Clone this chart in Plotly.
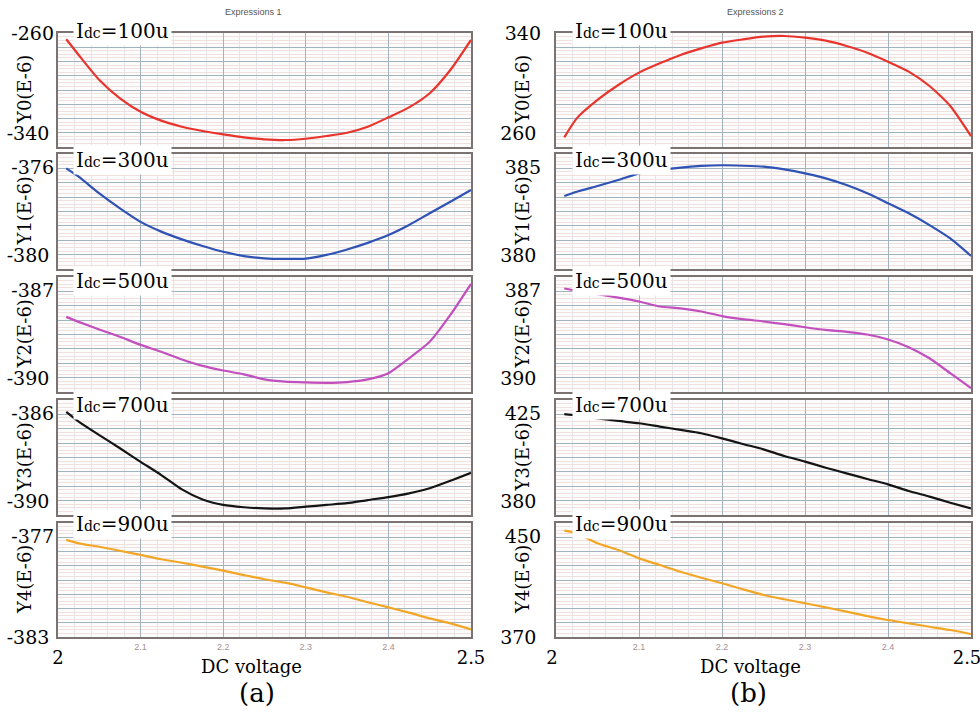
import numpy as np
import plotly.graph_objects as go

# ---------------- data ----------------
x_v = [2.01, 2.025, 2.05, 2.075, 2.1, 2.125, 2.15, 2.175, 2.2, 2.225, 2.25,
       2.275, 2.3, 2.325, 2.35, 2.375, 2.4, 2.425, 2.45, 2.475, 2.5]

# panel (a)
a0 = [-264.4, -275.4, -293.0, -305.8, -315.2, -321.5, -325.8, -328.8, -331.1, -333.2, -334.6,
      -335.1, -334.2, -332.3, -330.0, -325.8, -319.2, -312.2, -302.3, -286.0, -264.9]
a1 = [-376.50, -376.79, -377.37, -377.89, -378.36, -378.70, -378.97, -379.20, -379.40, -379.55, -379.63,
      -379.65, -379.64, -379.51, -379.32, -379.09, -378.82, -378.47, -378.06, -377.66, -377.25]
a2 = [-388.04, -388.17, -388.37, -388.56, -388.77, -388.95, -389.15, -389.32, -389.44, -389.54, -389.67,
      -389.73, -389.75, -389.76, -389.74, -389.67, -389.51, -389.12, -388.69, -387.99, -387.18]
a3 = [-386.41, -386.75, -387.22, -387.68, -388.15, -388.61, -389.11, -389.46, -389.65, -389.73, -389.77,
      -389.77, -389.71, -389.65, -389.59, -389.48, -389.38, -389.25, -389.07, -388.81, -388.53]
a4 = [-377.89, -378.07, -378.25, -378.46, -378.68, -378.91, -379.09, -379.30, -379.51, -379.74, -379.96,
      -380.14, -380.39, -380.65, -380.88, -381.17, -381.44, -381.72, -382.02, -382.28, -382.60]

# panel (b)
b0 = [266.8, 280.1, 293.0, 303.5, 312.2, 318.7, 324.6, 329.2, 333.2, 335.5, 337.4,
      337.9, 336.7, 334.6, 330.9, 326.2, 319.9, 312.9, 302.8, 288.8, 267.7]
b1 = [383.17, 383.36, 383.61, 383.87, 384.16, 384.30, 384.41, 384.48, 384.51, 384.49, 384.45,
      384.33, 384.16, 383.94, 383.65, 383.29, 382.86, 382.42, 381.91, 381.33, 380.57]
b2 = [387.30, 387.36, 387.45, 387.54, 387.64, 387.77, 387.82, 387.90, 388.02, 388.10, 388.16,
      388.23, 388.31, 388.38, 388.43, 388.50, 388.63, 388.83, 389.12, 389.51, 389.90]
b3 = [419.5, 419.0, 417.8, 416.8, 415.9, 414.6, 413.3, 412.0, 410.0, 407.8, 405.7,
      403.1, 400.9, 398.5, 396.3, 394.1, 392.0, 389.4, 387.2, 384.8, 382.6]
b4 = [444.6, 442.8, 435.8, 431.0, 425.2, 420.5, 415.8, 411.6, 407.7, 403.5, 399.5,
      396.5, 393.7, 390.8, 387.8, 384.7, 381.9, 379.6, 377.2, 374.9, 372.1]

idc_labels = ["100u", "300u", "500u", "700u", "900u"]
y_names = ["Y0(E-6)", "Y1(E-6)", "Y2(E-6)", "Y3(E-6)", "Y4(E-6)"]

# y tick labels: (bottom value, top value) per row
ticks_a = [(-340, -260), (-380, -376), (-390, -387), (-390, -386), (-383, -377)]
ticks_b = [(260, 340), (380, 385), (390, 387), (380, 425), (370, 450)]

x_big_ticks = [2.0, 2.5]
x_big_text = ["2", "2.5"]
x_small_ticks = [2.1, 2.2, 2.3, 2.4]
x_small_text = ["2.1", "2.2", "2.3", "2.4"]

panel_titles = ["Expressions 1", "Expressions 2"]
panel_letters = ["(a)", "(b)"]

series = [[a0, a1, a2, a3, a4], [b0, b1, b2, b3, b4]]
ticks = [ticks_a, ticks_b]

# ---------------- styling / layout ----------------
W, H = 980, 713
SERIF = "DejaVu Serif"
colors = ["#e8342c", "#2f52b4", "#c24fbe", "#141414", "#f2a626"]
FRAME = "#7b7272"
GRID_MAJOR = "#a3b3be"
GRID_X_FINE = "#e2e6ea"
GRID_Y_FINE = "#f0e1df"

col_px = [(58, 471), (556, 971)]
row_px = [(33, 147), (154, 269), (277, 392), (400, 515), (523, 637)]
label_box_x = [73, 572]
label_box_y = [31, 160, 281, 405, 524]
ytitle_x = [24, 522]
expr_title_x = [253, 755]
xtitle_x = [252, 750]
letter_x = [257, 748]


def px_x(p):
    return p / W


def px_y(p):
    return 1 - p / H


fig = go.Figure()
layout = dict(
    width=W, height=H,
    margin=dict(l=0, r=0, t=0, b=0, autoexpand=False),
    paper_bgcolor="white",
    plot_bgcolor="#fcfcfc",
    showlegend=False,
    annotations=[],
)

for c in range(2):
    for r in range(5):
        i = r * 2 + c + 1
        xs = "" if i == 1 else str(i)
        xname, yname = "x" + xs, "y" + xs
        x2id, y2id = str(20 + i), str(10 + i)
        bot, top = ticks[c][r]

        fig.add_trace(go.Scatter(
            x=x_v, y=series[c][r], mode="lines",
            line=dict(color=colors[r], width=2.2, shape="spline", smoothing=0.6),
            xaxis=xname, yaxis=yname, hoverinfo="x+y",
        ))
        # invisible twin on the overlaying axes (top tick label, fine grids)
        fig.add_trace(go.Scatter(
            x=x_v, y=series[c][r], mode="lines", opacity=0,
            line=dict(width=0), xaxis="x" + x2id, yaxis="y" + y2id, hoverinfo="skip",
        ))

        x0, x1 = col_px[c]
        y0, y1 = row_px[r]
        bottom_row = (r == 4)
        x_fine = [2.0 + 0.02 * k for k in range(26)]

        layout["xaxis" + xs] = dict(
            domain=[px_x(x0), px_x(x1)], anchor=yname, range=[2.0, 2.5],
            tickvals=x_big_ticks, ticktext=x_big_text, showticklabels=bottom_row,
            tickfont=dict(family=SERIF, size=18, color="black"), ticks="",
            ticklabelstandoff=4, ticklabeloverflow="allow",
            ticklabelshift=-4 if c == 1 else 0,
            showgrid=False,
            minor=dict(tickvals=x_fine, showgrid=True, gridcolor=GRID_X_FINE, gridwidth=1),
            showline=True, mirror=True, linecolor=FRAME, linewidth=1.6,
            zeroline=False, fixedrange=True, automargin=False,
        )
        layout["xaxis" + x2id] = dict(
            overlaying=xname, anchor=yname, side="bottom", range=[2.0, 2.5],
            tickvals=x_small_ticks, ticktext=x_small_text, showticklabels=bottom_row,
            tickfont=dict(family="Liberation Sans", size=9, color="#a89090"), ticks="",
            ticklabelstandoff=3,
            showgrid=True, gridcolor=GRID_MAJOR, gridwidth=1,
            showline=False, zeroline=False, fixedrange=True, automargin=False,
        )
        major_vals = list(np.linspace(bot, top, 9))[1:-1]
        fine_vals = [v for k, v in enumerate(np.linspace(bot, top, 33)) if k % 4 != 0]
        layout["yaxis" + xs] = dict(
            domain=[px_y(y1), px_y(y0)], anchor=xname, range=[bot, top],
            tickvals=[bot], ticktext=[str(bot)],
            ticklabelposition="outside" if r == 4 else "outside top",
            ticklabelstandoff=3 if c == 0 else 14,
            tickfont=dict(family=SERIF, size=19, color="black"), ticks="",
            showgrid=False,
            minor=dict(tickvals=major_vals, showgrid=True, gridcolor=GRID_MAJOR, gridwidth=1),
            showline=True, mirror=True, linecolor=FRAME, linewidth=1.6,
            zeroline=False, fixedrange=True, automargin=False,
        )
        layout["yaxis" + y2id] = dict(
            overlaying=yname, anchor=xname, side="left", range=[bot, top],
            tickvals=[top], ticktext=[str(top)],
            ticklabelposition="outside" if r == 0 else "outside bottom",
            ticklabelstandoff=3 if c == 0 else 14,
            tickfont=dict(family=SERIF, size=19, color="black"), ticks="",
            showgrid=False,
            minor=dict(tickvals=fine_vals, showgrid=True, gridcolor=GRID_Y_FINE, gridwidth=1),
            showline=False, zeroline=False, fixedrange=True, automargin=False,
        )

        # I_dc label box ("dc" set small, on the baseline)
        layout["annotations"].append(dict(
            x=px_x(label_box_x[c]), y=px_y(label_box_y[r]), xref="paper", yref="paper",
            xanchor="left", yanchor="middle", showarrow=False,
            text="I<span style='font-size:14px'>dc</span>=" + idc_labels[r],
            font=dict(family=SERIF, size=20, color="black"),
            bgcolor="white", borderpad=2,
        ))
        # y axis title
        layout["annotations"].append(dict(
            x=px_x(ytitle_x[c]), y=px_y((y0 + y1) / 2), xref="paper", yref="paper",
            xanchor="center", yanchor="middle", showarrow=False, textangle=-90,
            text=y_names[r], font=dict(family=SERIF, size=18, color="black"),
        ))

    layout["annotations"].append(dict(
        x=px_x(expr_title_x[c]), y=px_y(12), xref="paper", yref="paper", showarrow=False,
        xanchor="center", yanchor="middle",
        text=panel_titles[c], font=dict(family="Liberation Sans", size=9, color="#555555"),
    ))
    layout["annotations"].append(dict(
        x=px_x(xtitle_x[c]), y=px_y(666), xref="paper", yref="paper", showarrow=False,
        xanchor="center", yanchor="middle",
        text="DC voltage", font=dict(family=SERIF, size=18, color="black"),
    ))
    layout["annotations"].append(dict(
        x=px_x(letter_x[c]), y=px_y(693), xref="paper", yref="paper", showarrow=False,
        xanchor="center", yanchor="middle",
        text=panel_letters[c], font=dict(family=SERIF, size=26, color="black"),
    ))

fig.update_layout(**layout)
fig.write_html("out.html", config={"displayModeBar": False},
               post_script="document.body.style.margin='0px';")
